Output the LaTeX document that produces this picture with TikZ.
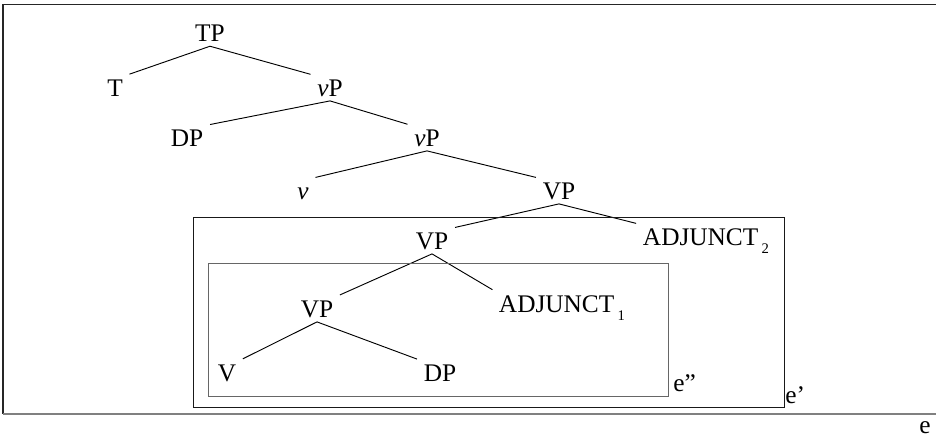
\documentclass[tikz,border=0pt]{standalone}
\usepackage{fontspec}
\setmainfont{Liberation Serif}
\usetikzlibrary{positioning}
\newcommand{\lowsub}[1]{\kern2.5pt\raisebox{-6pt}{\fontsize{11}{11}\selectfont #1}}
\tikzset{
    on grid,
    x=0.75pt,
    y=-0.75pt,
    cat/.style={font=\fontsize{19}{22}\selectfont, inner xsep=3pt, inner ysep=3pt, text height=13pt, text depth=0pt},
    tag/.style={font=\fontsize{19}{22}\selectfont, inner sep=0pt},
    branch/.style={line width=0.7pt, shorten >=2pt},
    boxline/.style={line width=0.65pt},
}

\begin{document}
\begin{tikzpicture}
        \useasboundingbox (0,0) rectangle (936,438);
        \node[cat] (TP) at (210,33.3) {TP};
        \node[cat, below left=41pt and 71.25pt of TP] (T) {T};
        \node[cat, below right=41pt and 90pt of TP] (vP1) {\textit{v}P};
        \node[cat, below left=37.5pt and 107.25pt of vP1] (DP1) {DP};
        \node[cat, below right=37.5pt and 72.75pt of vP1] (vP2) {\textit{v}P};
        \node[cat, below left=39.75pt and 93pt of vP2] (v) {\textit{v}};
        \node[cat, below right=39.75pt and 99pt of vP2] (VP1) {VP};
        \node[cat, below left=37.5pt and 95.25pt of VP1] (VP2) {VP};
        \node[cat, below right=34.5pt and 110.25pt of VP1] (adj2) {ADJUNCT\lowsub{2}};
        \node[cat, below left=51pt and 86.25pt of VP2] (VP3) {VP};
        \node[cat, below right=47.25pt and 97.5pt of VP2] (adj1) {ADJUNCT\lowsub{1}};
        \node[cat, below left=48pt and 67.5pt of VP3] (V) {V};
        \node[cat, below right=48pt and 92.25pt of VP3] (DP2) {DP};

    \path[branch]
        (TP.south) edge (T.north east)
            edge (vP1.north west)
        (vP1.south) edge (DP1.north east)
            edge (vP2.north west)
        (vP2.south) edge (v.north east)
            edge (VP1.north west)
        (VP1.south) edge (VP2.north east)
            edge (adj2.north west)
        (VP2.south) edge (VP3.north east)
            edge (adj1.north west)
        (VP3.south) edge (V.north east)
            edge (DP2.north west);

        \coordinate (inner-nw) at (208,263);
        \coordinate (inner-se) at (668,396);
        \coordinate (mid-nw) at (193,217);
        \coordinate (mid-se) at (784,407);
        \draw[boxline, black!60] (inner-nw) rectangle (inner-se);
        \draw[boxline, black!90] (mid-nw) rectangle (mid-se);
        \draw[boxline, line width=1.3pt, black!85] (936,4.5) -- (3,4.5) -- (3,414);
        \draw[boxline, line width=1.3pt, black!50] (3,414) -- (936,414);

        \node[tag, anchor=base west] (e2) at ([xshift=3.75pt, yshift=3pt]inner-se) {e”};
        \node[tag, anchor=base west] (e1) at ([xshift=0.75pt, yshift=3pt]mid-se) {e’};
        \node[tag, anchor=base] (e0) at (925,433) {e};
\end{tikzpicture}
\end{document}
